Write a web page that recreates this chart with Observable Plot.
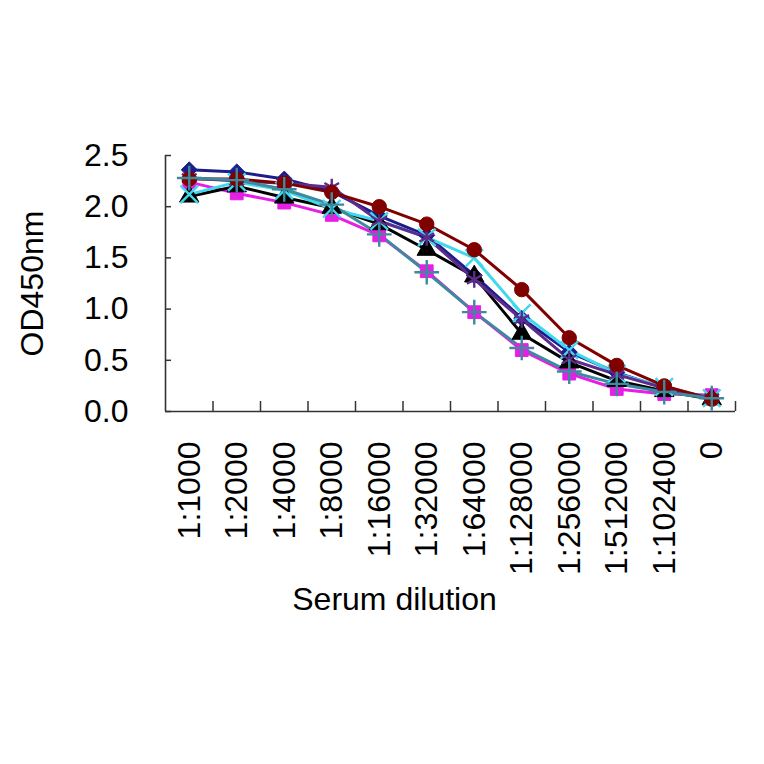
<!DOCTYPE html>
<html>
<head>
<meta charset="utf-8">
<script src="https://cdn.jsdelivr.net/npm/d3@7"></script>
<script src="https://cdn.jsdelivr.net/npm/@observablehq/plot@0.6"></script>
<style>
  html, body { margin: 0; padding: 0; background: #fff; }
  #chart svg { display: block; }
</style>
</head>
<body>
<div id="chart"></div>
<script>
// ---- Data ----
const categories = ["1:1000", "1:2000", "1:4000", "1:8000", "1:16000", "1:32000",
  "1:64000", "1:128000", "1:256000", "1:512000", "1:102400", "0"];
const yTicks = [0, 0.5, 1.0, 1.5, 2.0, 2.5];

const series1 = [2.36, 2.34, 2.27, 2.15, 1.91, 1.72, 1.33, 0.91, 0.58, 0.38, 0.23, 0.13]; // diamond
const series2 = [2.24, 2.13, 2.04, 1.92, 1.72, 1.37, 0.97, 0.60, 0.37, 0.22, 0.17, 0.16]; // square
const series3 = [2.10, 2.20, 2.09, 1.99, 1.83, 1.58, 1.32, 0.76, 0.48, 0.30, 0.20, 0.12]; // triangle
const series4 = [2.12, 2.24, 2.16, 1.98, 1.86, 1.70, 1.50, 0.96, 0.60, 0.37, 0.24, 0.13]; // times
const series5 = [2.28, 2.25, 2.23, 2.19, 1.86, 1.70, 1.29, 0.90, 0.51, 0.36, 0.23, 0.13]; // asterisk
const series6 = [2.27, 2.27, 2.23, 2.14, 2.00, 1.83, 1.58, 1.19, 0.72, 0.45, 0.25, 0.12]; // circle
const series7 = [2.28, 2.26, 2.17, 2.02, 1.73, 1.36, 0.97, 0.62, 0.39, 0.27, 0.19, 0.13]; // plus

const xLabel = "Serum dilution";
const yLabel = "OD450nm";

// ---- Styles ----
const styles = [
  {values: series1, color: "#1c1c8a", symbol: "diamond2", filled: true},
  {values: series2, color: "#e61ee6", symbol: "square", filled: true},
  {values: series3, color: "#000000", symbol: "triangle", filled: true},
  {values: series4, color: "#40d8ec", symbol: "times", filled: false},
  {values: series5, color: "#5e2a8c", symbol: "asterisk", filled: false},
  {values: series6, color: "#800000", symbol: "circle", filled: true},
  {values: series7, color: "#3d8a9e", symbol: "plus", filled: false}
];

const font = "'Liberation Sans', Arial, sans-serif";
const axisColor = "#333";

const marks = [];
for (const s of styles) {
  const rows = s.values.map((v, i) => ({i, v}));
  marks.push(Plot.line(rows, {x: "i", y: "v", stroke: s.color, strokeWidth: 3}));
}
for (const s of styles) {
  const rows = s.values.map((v, i) => ({i, v}));
  if (s.filled) {
    marks.push(Plot.dot(rows, {x: "i", y: "v", symbol: s.symbol, fill: s.color, stroke: s.color, strokeWidth: 1, r: 7.2}));
  } else {
    marks.push(Plot.dot(rows, {x: "i", y: "v", symbol: s.symbol, fill: "none", stroke: s.color, strokeWidth: 2.4, r: 8}));
  }
}

const chart = Plot.plot({
  width: 764,
  height: 764,
  marginTop: 155,
  marginBottom: 353,
  marginLeft: 165,
  marginRight: 29,
  style: {fontFamily: font, background: "#fff", color: "#000"},
  x: {type: "linear", domain: [-0.5, categories.length - 0.5]},
  y: {domain: [0, 2.5]},
  marks: [
    ...marks,
    Plot.ruleY([0], {stroke: axisColor, strokeWidth: 1.6}),
    Plot.ruleX([-0.5], {y1: 0, y2: 2.5, stroke: axisColor, strokeWidth: 1.6}),
    Plot.axisY({ticks: yTicks, tickFormat: d => d.toFixed(1), tickSize: -6, tickPadding: 43,
      fontSize: 32, stroke: axisColor, strokeWidth: 1.5, label: null}),
    Plot.axisX({ticks: categories.map((_, i) => i + 0.5), tickFormat: () => "", tickSize: -10,
      stroke: axisColor, strokeWidth: 1.5, label: null}),
    Plot.axisX({ticks: categories.map((_, i) => i), tickFormat: i => categories[i], tickSize: 0,
      tickPadding: 30, tickRotate: -90, fontSize: 32, label: null}),
    Plot.text([yLabel], {frameAnchor: "left", dx: -133, rotate: -90, textAnchor: "middle", fontSize: 32, fill: "#000"}),
    Plot.text([xLabel], {frameAnchor: "bottom", dx: -56, dy: 198, fontSize: 32, fill: "#000"})
  ]
});
document.getElementById("chart").appendChild(chart);
</script>
</body>
</html>
